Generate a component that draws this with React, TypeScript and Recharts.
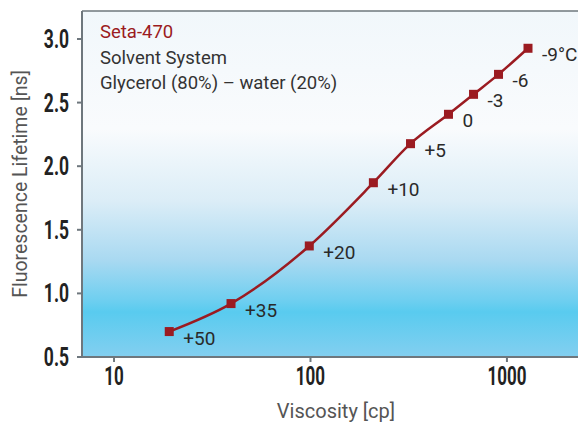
import { LineChart, Line, XAxis, YAxis, CartesianGrid, LabelList, ReferenceLine, Label } from "recharts";

// values
const viscosity = [19.1, 39.4, 98.6, 209, 323, 504, 676, 906, 1280];
const lifetime = [0.7, 0.92, 1.373, 1.87, 2.177, 2.408, 2.565, 2.722, 2.927];
const temps = ["+50", "+35", "+20", "+10", "+5", "0", "-3", "-6", "-9°C"];

const xTicks = [10, 100, 1000];
const yTicks = [0.5, 1.0, 1.5, 2.0, 2.5, 3.0];

const data = viscosity.map((v, i) => ({ viscosity: v, lifetime: lifetime[i], temp: temps[i] }));

const RED = "#9b1b21";
const AXIS = "#6e777d";
const TEXT_FONT = "Roboto, 'Noto Sans', sans-serif";

// condensed bold tick text (no condensed font installed, so squeeze Roboto)
function XTick(props: any) {
  const { x, y, payload } = props;
  return (
    <text
      transform={`translate(${x},${y + 19}) scale(0.68,1)`}
      textAnchor="middle"
      fontSize={25}
      fontWeight={700}
      fontFamily={TEXT_FONT}
      fill="#222"
    >
      {payload.value}
    </text>
  );
}

function YTick(props: any) {
  const { x, y, payload } = props;
  return (
    <text
      transform={`translate(${x},${y + 9}) scale(0.7,1)`}
      textAnchor="end"
      fontSize={25}
      fontWeight={700}
      fontFamily={TEXT_FONT}
      fill="#222"
    >
      {Number(payload.value).toFixed(1)}
    </text>
  );
}

function XTitle(props: any) {
  const vb = props.viewBox;
  return (
    <text
      x={vb.x + vb.width / 2 + 6}
      y={vb.y + 61}
      textAnchor="middle"
      fontSize={20}
      fontFamily={TEXT_FONT}
      fill="#555"
    >
      Viscosity [cp]
    </text>
  );
}

function YTitle() {
  return (
    <text
      transform="translate(27,184) rotate(-90)"
      textAnchor="middle"
      fontSize={19.5}
      fontFamily={TEXT_FONT}
      fill="#555"
    >
      Fluorescence Lifetime [ns]
    </text>
  );
}

function SquareDot(props: any) {
  const { cx, cy } = props;
  if (cx == null || cy == null) return null;
  return <rect x={cx - 4.5} y={cy - 4.5} width={9} height={9} fill={RED} />;
}

function TempLabel(props: any) {
  const x = props.viewBox?.x ?? props.x;
  const y = props.viewBox?.y ?? props.y;
  return (
    <text x={x + 14} y={y + 13} fontSize={19} fill="#2a2a2a" fontFamily={TEXT_FONT}>
      {props.value}
    </text>
  );
}

export default function App() {
  return (
    <div style={{ position: "relative", width: 578, height: 424, overflow: "hidden" }}>
      <style>{`body{margin:0}`}</style>
      <LineChart width={578} height={424} data={data} margin={{ top: 11, right: 0, left: 0, bottom: 0 }}>
        <defs>
          <linearGradient id="bg" x1="0" y1="0" x2="0" y2="1">
            <stop offset="0" stopColor="#f1f7fb" />
            <stop offset="0.34" stopColor="#f9fbfd" />
            <stop offset="0.55" stopColor="#dbedf7" />
            <stop offset="0.72" stopColor="#a9d9f1" />
            <stop offset="0.835" stopColor="#6fcff0" />
            <stop offset="0.87" stopColor="#59cbef" />
            <stop offset="1" stopColor="#83cff0" />
          </linearGradient>
        </defs>
        <CartesianGrid fill="url(#bg)" stroke="none" horizontal={false} vertical={false} />
        <XAxis
          dataKey="viscosity"
          type="number"
          scale="log"
          domain={[6.87, 2300]}
          ticks={xTicks}
          allowDataOverflow
          height={67}
          stroke={AXIS}
          strokeWidth={2}
          tickSize={5}
          tickMargin={4}
          tick={<XTick />}
        >
          <Label content={<XTitle />} />
        </XAxis>
        <YAxis
          type="number"
          domain={[0.5, 3.22]}
          ticks={yTicks}
          allowDataOverflow
          width={82}
          stroke={AXIS}
          strokeWidth={2}
          tickSize={5}
          tickMargin={8}
          tick={<YTick />}
        >
          <Label content={<YTitle />} />
        </YAxis>
        <ReferenceLine y={3.22} stroke={AXIS} strokeWidth={1.5} />
        <Line
          type="monotone"
          dataKey="lifetime"
          stroke={RED}
          strokeWidth={2.5}
          dot={<SquareDot />}
          activeDot={false}
          isAnimationActive={false}
        >
          <LabelList dataKey="temp" content={<TempLabel />} />
        </Line>
      </LineChart>
      <div
        style={{
          position: "absolute",
          left: 100,
          top: 20,
          fontFamily: TEXT_FONT,
          fontSize: 18.5,
          lineHeight: "25.5px",
          color: "#333",
          whiteSpace: "nowrap",
        }}
      >
        <div style={{ color: RED }}>Seta-470</div>
        <div>Solvent System</div>
        <div>Glycerol (80%) – water (20%)</div>
      </div>
    </div>
  );
}
